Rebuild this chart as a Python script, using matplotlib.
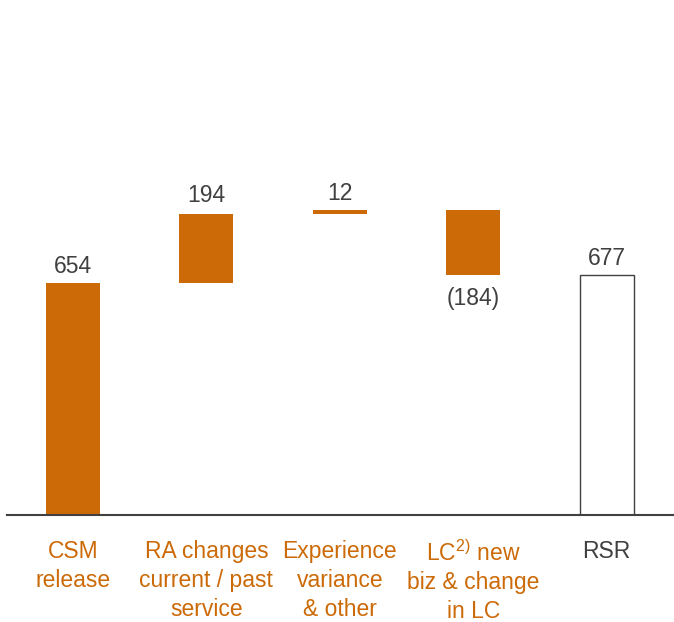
import matplotlib
matplotlib.use("Agg")
import matplotlib.pyplot as plt
import numpy as np

plt.rcParams['font.family'] = ['Liberation Sans', 'DejaVu Sans']
plt.rcParams['mathtext.fontset'] = 'custom'
plt.rcParams['mathtext.rm'] = 'Liberation Sans'
plt.rcParams['mathtext.it'] = 'Liberation Sans'

categories = ["CSM\nrelease", "RA changes\ncurrent / past\nservice", "Experience\nvariance\n& other",
              "LC$^{\\mathrm{2)}}$ new\nbiz & change\nin LC", "RSR"]
changes = [654, 194, 12, -184]
total = 677
value_labels = ["654", "194", "12", "(184)", "677"]

ORANGE = "#CC6A08"
GRAY = "#404040"
FS = 16.5

fig = plt.figure(figsize=(6.74, 6.22), dpi=100)
ax = fig.add_axes([7/674, (622-515)/622, 667/674, 515/622])

x = np.arange(len(categories))
width = 0.405
cum = 0
for i, c in enumerate(changes):
    start = cum
    cum += c
    lo, hi = min(start, cum), max(start, cum)
    ax.bar(x[i], hi - lo, bottom=lo, width=width, color=ORANGE, linewidth=0)
    if c >= 0:
        dy = 5 if i == 1 else 3.5
        ax.annotate(value_labels[i], xy=(x[i], hi), xytext=(0, dy), textcoords='offset points',
                    ha='center', va='bottom', fontsize=FS, color=GRAY)
    else:
        ax.annotate(value_labels[i], xy=(x[i], lo), xytext=(0, -8.5), textcoords='offset points',
                    ha='center', va='top', fontsize=FS, color=GRAY)

ax.bar(x[4], total, width=width, color='white', edgecolor=GRAY, linewidth=1)
ax.annotate(value_labels[4], xy=(x[4], total), xytext=(0, 3.5), textcoords='offset points',
            ha='center', va='bottom', fontsize=FS, color=GRAY)

ax.set_xlim(-0.495, 4.505)
ax.set_ylim(0, 1452)
for s in ['top', 'right', 'left']:
    ax.spines[s].set_visible(False)
ax.spines['bottom'].set_color(GRAY)
ax.spines['bottom'].set_linewidth(1.5)
ax.set_yticks([])
ax.set_xticks([])

for i, lab in enumerate(categories):
    col = GRAY if i == 4 else ORANGE
    ax.annotate(lab, xy=(x[i], 0), xycoords='data', xytext=(0, -18), textcoords='offset points',
                ha='center', va='top', fontsize=FS, color=col, linespacing=1.32)

fig.savefig("out.png", dpi=100)
